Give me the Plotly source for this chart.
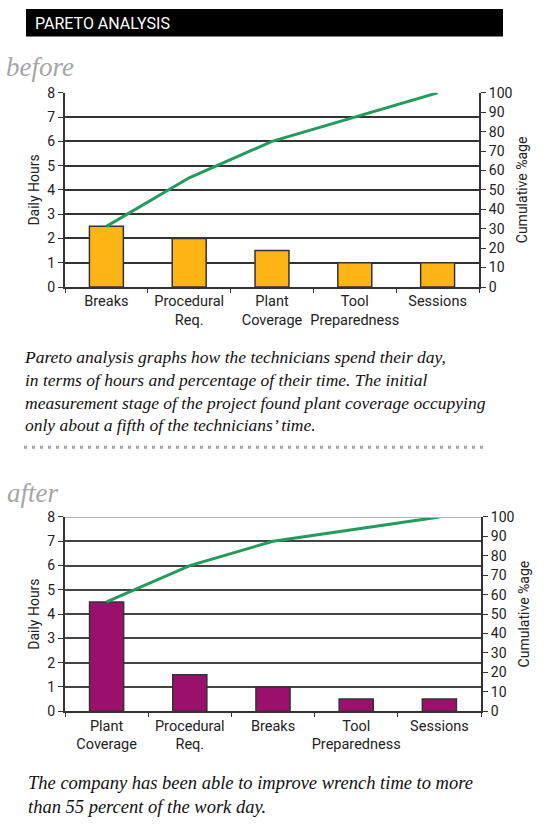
import plotly.graph_objects as go

# ---- data ----
before_categories = ["Breaks", "Procedural<br>Req.", "Plant<br>Coverage", "Tool<br>Preparedness", "Sessions"]
before_hours = [2.5, 2.0, 1.5, 1.0, 1.0]
before_cumulative = [31.25, 56.25, 75.0, 87.5, 100.0]

after_categories = ["Plant<br>Coverage", "Procedural<br>Req.", "Breaks", "Tool<br>Preparedness", "Sessions"]
after_hours = [4.5, 1.5, 1.0, 0.5, 0.5]
after_cumulative = [56.25, 75.0, 87.5, 93.75, 100.0]

hours_ticks = [0, 1, 2, 3, 4, 5, 6, 7, 8]
pct_ticks = [0, 10, 20, 30, 40, 50, 60, 70, 80, 90, 100]

W, H = 550, 830
def px(x): return x / W
def py(y): return 1 - y / H

TICKFONT = dict(family="Roboto", size=14, color="#222")
XFONT = dict(family="Roboto", size=14.5, color="#222")
GREEN = "#239b5c"
ORANGE = "#fdb515"
PURPLE = "#9b106b"

fig = go.Figure()

fig.add_trace(go.Bar(x=before_categories, y=before_hours, xaxis="x", yaxis="y",
                     marker=dict(color=ORANGE, line=dict(color="#333", width=1.5)),
                     showlegend=False))
fig.add_trace(go.Scatter(x=before_categories, y=before_cumulative, xaxis="x", yaxis="y2",
                         mode="lines", line=dict(color=GREEN, width=3), showlegend=False))
fig.add_trace(go.Bar(x=after_categories, y=after_hours, xaxis="x2", yaxis="y3",
                     marker=dict(color=PURPLE, line=dict(color="#333", width=1.5)),
                     showlegend=False))
fig.add_trace(go.Scatter(x=after_categories, y=after_cumulative, xaxis="x2", yaxis="y4",
                         mode="lines", line=dict(color=GREEN, width=3), showlegend=False))

def xaxis_cfg(domain, anchor):
    return dict(domain=domain, anchor=anchor, type="category", showline=True,
                linecolor="#333", linewidth=2, ticks="outside", tickson="boundaries",
                ticklen=4, tickcolor="#333", tickfont=XFONT, tickangle=0, fixedrange=True)

def yleft_cfg(domain, anchor, gridcolor):
    return dict(domain=domain, anchor=anchor, range=[0, 8], tickvals=hours_ticks,
                showline=True, linecolor="#333", linewidth=2, ticks="outside",
                ticklen=5, tickcolor="#333", showgrid=True, gridcolor=gridcolor,
                gridwidth=1.5, zeroline=False, tickfont=TICKFONT,
                title=dict(text="Daily Hours", font=TICKFONT, standoff=4))

def yright_cfg(over, anchor):
    return dict(overlaying=over, anchor=anchor, side="right", range=[0, 100],
                tickvals=pct_ticks, showline=True, linecolor="#333", linewidth=2,
                ticks="outside", ticklen=5, tickcolor="#333", showgrid=False,
                zeroline=False, tickfont=TICKFONT,
                title=dict(text="Cumulative %age", font=TICKFONT, standoff=6))

top_x = [px(65), px(479)]
top_y = [py(284.5), py(86.5)]
bot_x = [px(65), px(481)]
bot_y = [py(717), py(519)]

fig.update_layout(
    width=W, height=H, margin=dict(l=0, r=0, t=0, b=0),
    paper_bgcolor="white", plot_bgcolor="white", bargap=0.59,
    xaxis=xaxis_cfg(top_x, "y"),
    yaxis=yleft_cfg(top_y, "x", "#333"),
    yaxis2=yright_cfg("y", "x"),
    xaxis2=xaxis_cfg(bot_x, "y3"),
    yaxis3=yleft_cfg(bot_y, "x2", "#444"),
    yaxis4=yright_cfg("y3", "x2"),
)

shapes = [
    dict(type="rect", xref="paper", yref="paper", x0=px(26), x1=px(503), y0=py(29), y1=py(1),
         fillcolor="black", line=dict(width=0), layer="above"),
    dict(type="line", xref="paper", yref="paper", x0=px(24), x1=px(486), y0=py(448), y1=py(448),
         line=dict(color="#a8a8a8", width=3, dash="3px,5px")),
    # light top border of the "after" chart at 8 hours
    dict(type="line", xref="x2 domain", yref="y3", x0=0, x1=1, y0=8, y1=8,
         line=dict(color="#b5b5b5", width=2), layer="above"),
]
fig.update_layout(shapes=shapes)

SERIF = "Liberation Serif"
anns = [
    dict(text="PARETO ANALYSIS", x=px(33), y=py(16), font=dict(family="Roboto", size=16, color="white")),
    dict(text="<i>before</i>", x=px(4), y=py(60), font=dict(family=SERIF, size=27, color="#a6a6a6")),
    dict(text="<i>after</i>", x=px(5), y=py(495), font=dict(family=SERIF, size=27, color="#a6a6a6")),
    dict(text="<i>Pareto analysis graphs how the technicians spend their day,<br>"
              "in terms of hours and percentage of their time. The initial<br>"
              "measurement stage of the project found plant coverage occupying<br>"
              "only about a fifth of the technicians\u2019 time.</i>",
         x=px(22), y=py(391), font=dict(family=SERIF, size=17.5, color="#111")),
    dict(text="<i>The company has been able to improve wrench time to more<br>"
              "than 55 percent of the work day.</i>",
         x=px(26), y=py(802), font=dict(family=SERIF, size=18.5, color="#111")),
]
for a in anns:
    a.update(xref="paper", yref="paper", xanchor="left", yanchor="middle",
             showarrow=False, align="left")
fig.update_layout(annotations=anns)

fig.write_html("out.html")
